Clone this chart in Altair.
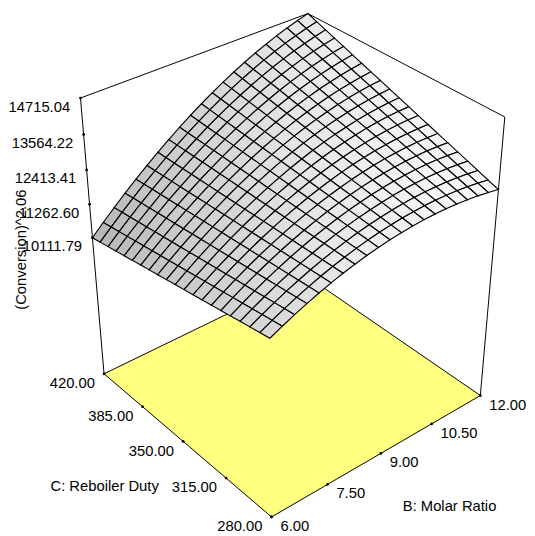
import numpy as np
import pandas as pd
import altair as alt

# axis ticks
B_TICKS = [6.00, 7.50, 9.00, 10.50, 12.00]
C_TICKS = [280.00, 315.00, 350.00, 385.00, 420.00]
Z_TICKS = [10111.79, 11262.60, 12413.41, 13564.22, 14715.04]
Z_FLOOR = 5062.07

# quadratic response surface in coded units: b0, B, C, BC, B^2, C^2
COEF = [12793.9, 1440.0, 286.5, 861.6, -667.0, 0.0]
MESH = 20

# view of the box
AZIMUTH = 0.6947
ELEVATION = 0.6033
DISTANCE = 5.6031
ZOOM = 287.543
CENTER = (294.877, 254.019)
BOX_HEIGHT = 1.1843
LIGHT = np.array([0.3, -0.1, 0.95])

FONT = "Liberation Sans"
W, H = 527, 528


def response(b, c):
    x1 = (np.asarray(b, float) - 9.0) / 3.0
    x2 = (np.asarray(c, float) - 350.0) / 70.0
    b0, b1, b2, b12, b11, b22 = COEF
    return b0 + b1 * x1 + b2 * x2 + b12 * x1 * x2 + b11 * x1 ** 2 + b22 * x2 ** 2


def height(z):
    return (np.asarray(z, float) - Z_FLOOR) / (Z_TICKS[-1] - Z_FLOOR) * BOX_HEIGHT


def project(b, c, z):
    X = (np.asarray(b, float) - 9.0) / 6.0
    Y = (np.asarray(c, float) - 350.0) / 140.0
    Hc = height(z) - BOX_HEIGHT / 2
    x1 = X * np.cos(AZIMUTH) - Y * np.sin(AZIMUTH)
    y1 = X * np.sin(AZIMUTH) + Y * np.cos(AZIMUTH)
    depth = y1 * np.cos(ELEVATION) - Hc * np.sin(ELEVATION)
    up = y1 * np.sin(ELEVATION) + Hc * np.cos(ELEVATION)
    s = DISTANCE / (DISTANCE + depth)
    return CENTER[0] + ZOOM * x1 * s, CENTER[1] - ZOOM * up * s, depth


def shade(b, c):
    db, dc = 0.01, 0.2
    hx = (height(response(b + db, c)) - height(response(b - db, c))) / (2 * db) * 6.0
    hy = (height(response(b, c + dc)) - height(response(b, c - dc))) / (2 * dc) * 140.0
    n = np.array([-hx, -hy, 1.0])
    light = float(n @ LIGHT) / np.linalg.norm(n) / np.linalg.norm(LIGHT)
    t = np.clip((light - 0.496) / 0.484, 0, 1) ** 0.8
    g = int(round(180 + 68 * t))
    return "#%02x%02x%02x" % (g, g, g)


def ring(bs, cs, zs):
    sx, sy, d = project(bs, cs, zs)
    pts = [[float(x), float(y)] for x, y in zip(sx, sy)]
    return pts + [pts[0]], float(np.mean(d))


b_lo, b_hi = B_TICKS[0], B_TICKS[-1]
c_lo, c_hi = C_TICKS[0], C_TICKS[-1]
z_top = Z_TICKS[-1]

# floor
floor_ring, _ = ring([b_lo, b_hi, b_hi, b_lo], [c_lo, c_lo, c_hi, c_hi], [Z_FLOOR] * 4)
floor_data = [{"type": "Feature", "properties": {},
               "geometry": {"type": "Polygon", "coordinates": [floor_ring]}}]

# surface cells, painted back to front
b_grid = np.linspace(b_lo, b_hi, MESH + 1)
c_grid = np.linspace(c_lo, c_hi, MESH + 1)
cells = []
for i in range(MESH):
    for j in range(MESH):
        bs = [b_grid[i], b_grid[i + 1], b_grid[i + 1], b_grid[i]]
        cs = [c_grid[j], c_grid[j], c_grid[j + 1], c_grid[j + 1]]
        r, depth = ring(bs, cs, response(bs, cs))
        bm, cm = (b_grid[i] + b_grid[i + 1]) / 2, (c_grid[j] + c_grid[j + 1]) / 2
        cells.append((depth, {"type": "Feature", "properties": {"shade": shade(bm, cm)},
                              "geometry": {"type": "Polygon", "coordinates": [r]}}))
cells.sort(key=lambda t: -t[0])
surface_data = [c[1] for c in cells]

# box edges
edges = [
    (b_lo, c_hi, Z_FLOOR, b_lo, c_hi, z_top),
    (b_hi, c_hi, Z_FLOOR, b_hi, c_hi, z_top),
    (b_hi, c_lo, Z_FLOOR, b_hi, c_lo, z_top),
    (b_lo, c_hi, z_top, b_hi, c_hi, z_top),
    (b_hi, c_hi, z_top, b_hi, c_lo, z_top),
]
e = np.array(edges)
x0, y0, _ = project(e[:, 0], e[:, 1], e[:, 2])
x1, y1, _ = project(e[:, 3], e[:, 4], e[:, 5])
edge_df = pd.DataFrame({"x": x0, "y": y0, "x2": x1, "y2": y1})

# ticks
zx, zy, _ = project([b_lo] * 5, [c_hi] * 5, Z_TICKS)
cx_, cy_, _ = project([b_lo] * 5, C_TICKS, [Z_FLOOR] * 5)
bx_, by_, _ = project(B_TICKS, [c_lo] * 5, [Z_FLOOR] * 5)
z_df = pd.DataFrame({"x": zx, "y": zy, "t": ["%.2f" % v for v in Z_TICKS]})
c_df = pd.DataFrame({"x": cx_, "y": cy_, "t": ["%.2f" % v for v in C_TICKS]})
b_df = pd.DataFrame({"x": bx_, "y": by_, "t": ["%.2f" % v for v in B_TICKS]})
tick_df = pd.concat([z_df, c_df, b_df])

# axis titles anchored at axis midpoints
mz = project([b_lo], [c_hi], [(Z_FLOOR + z_top) / 2])
mc = project([b_lo], [350.0], [Z_FLOOR])
mb = project([9.0], [c_lo], [Z_FLOOR])

X = alt.X("x:Q", scale=alt.Scale(domain=[8, 8 + W]), axis=None)
Y = alt.Y("y:Q", scale=alt.Scale(domain=[8 + H, 8]), axis=None)
X2 = alt.X2("x2:Q")
Y2 = alt.Y2("y2:Q")
proj = alt.Projection(type="identity", scale=1, translate=[-8, -8], reflectY=False)

edge_layer = alt.Chart(edge_df).mark_rule(color="black", strokeWidth=1).encode(X, Y, X2, Y2)

floor_layer = alt.Chart(alt.Data(values=floor_data)).mark_geoshape(
    fill="#ffff80", stroke="black", strokeWidth=1
).project(**proj.to_dict())

surface_layer = alt.Chart(alt.Data(values=surface_data)).mark_geoshape(
    stroke="black", strokeWidth=1.15
).encode(
    fill=alt.Fill("properties.shade:N", scale=None)
).project(**proj.to_dict())

tick_layer = alt.Chart(tick_df).mark_point(filled=True, size=8, color="black", opacity=1).encode(X, Y)


def labels(df, align, dx, dy):
    return alt.Chart(df).mark_text(
        align=align, baseline="middle", dx=dx, dy=dy, font=FONT, fontSize=15, color="black"
    ).encode(X, Y, text="t:N")


def title(pt, text, align, dx, dy, angle=0):
    df = pd.DataFrame({"x": pt[0], "y": pt[1], "t": [text]})
    return alt.Chart(df).mark_text(
        align=align, baseline="middle", dx=dx, dy=dy, angle=angle,
        font=FONT, fontSize=15, color="black"
    ).encode(X, Y, text="t:N")


chart = alt.layer(
    edge_layer,
    floor_layer,
    surface_layer,
    tick_layer,
    labels(z_df, "right", -10.5, 8.7),
    labels(c_df, "right", -9.3, 9.5),
    labels(b_df, "left", 9, 9.3),
    title(mz, "(Conversion)^2.06", "center", -5.6, -72.8, angle=270),
    title(mc, "C: Reboiler Duty", "right", -24.7, 45.4),
    title(mb, "B: Molar Ratio", "left", 22.3, 54.0),
).properties(
    width=W, height=H, padding=0, autosize="none"
).configure_view(stroke=None)

chart.save("out.html", embed_options={"renderer": "svg", "actions": False})
